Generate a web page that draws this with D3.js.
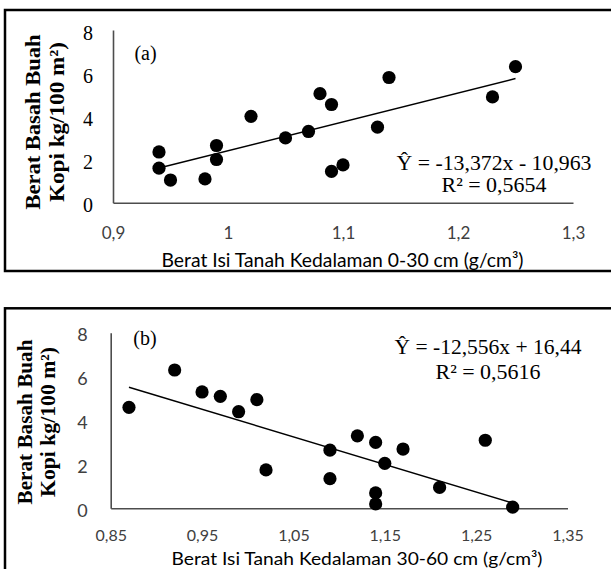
<!DOCTYPE html>
<html>
<head>
<meta charset="utf-8">
<script src="https://cdn.jsdelivr.net/npm/d3@7"></script>
<style>
  html, body { margin: 0; padding: 0; background: #fff; }
  svg { display: block; }
</style>
</head>
<body>
<svg id="chart" width="611" height="569"></svg>
<script>
// ---------- DATA ----------
// Panel (a): bulk density 0-30 cm vs fresh coffee cherry weight
const xA = [0.94, 0.94, 0.95, 0.98, 0.99, 0.99, 1.02, 1.05, 1.07, 1.08, 1.09, 1.09, 1.10, 1.13, 1.14, 1.23, 1.25];
const yA = [2.35, 1.60, 1.05, 1.10, 2.65, 2.00, 4.00, 3.00, 3.30, 5.05, 4.55, 1.45, 1.75, 3.50, 5.80, 4.90, 6.30];
const trendA = [13.372, -10.963];           // slope, intercept of fitted line
const trendRangeA = [0.94, 1.25];
const xTicksA = [0.9, 1.0, 1.1, 1.2, 1.3];
const xTickLabelsA = ["0,9", "1", "1,1", "1,2", "1,3"];
const eqA = ["Ŷ = -13,372x - 10,963", "R² = 0,5654"];

// Panel (b): bulk density 30-60 cm
const xB = [0.87, 0.92, 0.95, 0.97, 0.99, 1.01, 1.02, 1.09, 1.09, 1.12, 1.14, 1.14, 1.14, 1.15, 1.17, 1.21, 1.26, 1.29];
const yB = [4.60, 6.30, 5.30, 5.10, 4.40, 4.95, 1.75, 2.65, 1.35, 3.30, 3.00, 0.70, 0.20, 2.05, 2.70, 0.95, 3.10, 0.05];
const trendB = [-12.556, 16.44];
const trendRangeB = [0.87, 1.29];
const xTicksB = [0.85, 0.95, 1.05, 1.15, 1.25, 1.35];
const xTickLabelsB = ["0,85", "0,95", "1,05", "1,15", "1,25", "1,35"];
const eqB = ["Ŷ = -12,556x + 16,44", "R² = 0,5616"];

const yTicks = [0, 2, 4, 6, 8];
const yTitle = ["Berat Basah Buah", "Kopi kg/100 m²)"];
const xTitleA = "Berat Isi Tanah Kedalaman 0-30 cm (g/cm³)";
const xTitleB = "Berat Isi Tanah Kedalaman 30-60 cm (g/cm³)";
const panelLabels = ["(a)", "(b)"];

// ---------- DRAW ----------
const svg = d3.select("#chart");
const SERIF = "'Liberation Serif', 'Times New Roman', serif";
const SANS = "Lato, 'Open Sans', sans-serif";

function panel(cfg) {
  const g = svg.append("g");
  // border
  g.append("rect")
    .attr("x", cfg.box[0]).attr("y", cfg.box[1])
    .attr("width", cfg.box[2]).attr("height", cfg.box[3])
    .attr("fill", "none").attr("stroke", "#000").attr("stroke-width", 2.5);

  const x = d3.scaleLinear().domain([cfg.xTicks[0], cfg.xTicks[cfg.xTicks.length - 1]]).range(cfg.xr);
  const y = d3.scaleLinear().domain([0, 8]).range(cfg.yr);

  // x axis
  const xa = g.append("g").attr("transform", `translate(0,${cfg.yr[0]})`)
    .call(d3.axisBottom(x).tickValues(cfg.xTicks)
      .tickFormat((d, i) => cfg.xLabels[i]).tickSize(0).tickPadding(cfg.xPad));
  xa.select(".domain").attr("stroke", "#4d4d4d").attr("stroke-width", 1.6);
  xa.selectAll("text").attr("font-family", SANS).attr("font-size", cfg.xFontSize)
    .attr("fill", "#404040");

  // y axis
  const ya = g.append("g").attr("transform", `translate(${cfg.xr[0]},0)`)
    .call(d3.axisLeft(y).tickValues(yTicks).tickSize(0).tickPadding(cfg.yPad));
  ya.select(".domain").attr("stroke", "#4d4d4d").attr("stroke-width", 1.6);
  ya.selectAll("text").attr("font-family", cfg.yFont).attr("font-size", cfg.yFontSize)
    .attr("fill", cfg.yColor).attr("dy", "0.45em");

  // trend line
  const line = d3.line().x(d => x(d)).y(d => y(cfg.trend[0] * d + cfg.trend[1]));
  g.append("path").datum(cfg.trendRange).attr("d", line)
    .attr("fill", "none").attr("stroke", "#000").attr("stroke-width", 1.4);

  // points
  g.selectAll("circle.pt").data(cfg.xs).join("circle").attr("class", "pt")
    .attr("cx", d => x(d)).attr("cy", (d, i) => y(cfg.ys[i]))
    .attr("r", 6.6).attr("fill", "#000");

  // panel label
  g.append("text").attr("x", cfg.labelPos[0]).attr("y", cfg.labelPos[1])
    .attr("text-anchor", "middle").attr("dy", "0.35em")
    .attr("font-family", SERIF).attr("font-size", 20).text(cfg.label);

  // equation
  cfg.eq.forEach((t, i) => {
    g.append("text").attr("x", cfg.eqPos[0]).attr("y", cfg.eqPos[1] + i * cfg.eqGap)
      .attr("text-anchor", "middle").attr("dy", "0.35em")
      .attr("font-family", SERIF).attr("font-size", 21)
      .attr("textLength", cfg.eqLen[i]).attr("lengthAdjust", "spacingAndGlyphs")
      .text(t);
  });

  // x title
  g.append("text").attr("x", cfg.xTitlePos[0]).attr("y", cfg.xTitlePos[1])
    .attr("text-anchor", "middle").attr("dy", "0.35em")
    .attr("font-family", SANS).attr("font-size", cfg.xTitleSize).attr("fill", "#000")
    .attr("textLength", cfg.xTitleLen).attr("lengthAdjust", "spacingAndGlyphs")
    .text(cfg.xTitle);

  // y title (two lines, rotated)
  yTitle.forEach((t, i) => {
    g.append("text")
      .attr("transform", `translate(${cfg.yTitleX[i]},${cfg.yTitleY}) rotate(-90)`)
      .attr("text-anchor", "middle").attr("dy", "0.35em")
      .attr("font-family", SERIF).attr("font-weight", "bold").attr("font-size", 21)
      .attr("textLength", cfg.yTitleLen[i]).attr("lengthAdjust", "spacingAndGlyphs")
      .text(t);
  });
}

panel({
  box: [5, 10, 620, 261],
  xr: [113, 573], yr: [202.7, 30],
  xTicks: xTicksA, xLabels: xTickLabelsA, xPad: 24, xFontSize: 17,
  yPad: 20, yFont: SERIF, yFontSize: 20, yColor: "#000",
  xs: xA, ys: yA, trend: trendA, trendRange: trendRangeA,
  label: panelLabels[0], labelPos: [145.5, 53],
  eq: eqA, eqPos: [494, 163], eqGap: 22, eqLen: [195, 105],
  xTitle: xTitleA, xTitlePos: [342.5, 260], xTitleLen: 362, xTitleSize: 19,
  yTitleX: [33, 57], yTitleY: 122, yTitleLen: [175, 160]
});

panel({
  box: [5, 308.3, 620, 270],
  xr: [110.7, 567.5], yr: [508.3, 332.7],
  xTicks: xTicksB, xLabels: xTickLabelsB, xPad: 21.5, xFontSize: 16,
  yPad: 23, yFont: SANS, yFontSize: 18, yColor: "#404040",
  xs: xB, ys: yB, trend: trendB, trendRange: trendRangeB,
  label: panelLabels[1], labelPos: [145, 338],
  eq: eqB, eqPos: [488, 346.7], eqGap: 25, eqLen: [187, 105],
  xTitle: xTitleB, xTitlePos: [357, 559], xTitleLen: 371, xTitleSize: 18,
  yTitleX: [25, 48], yTitleY: 422, yTitleLen: [165, 150]
});
</script>
</body>
</html>
